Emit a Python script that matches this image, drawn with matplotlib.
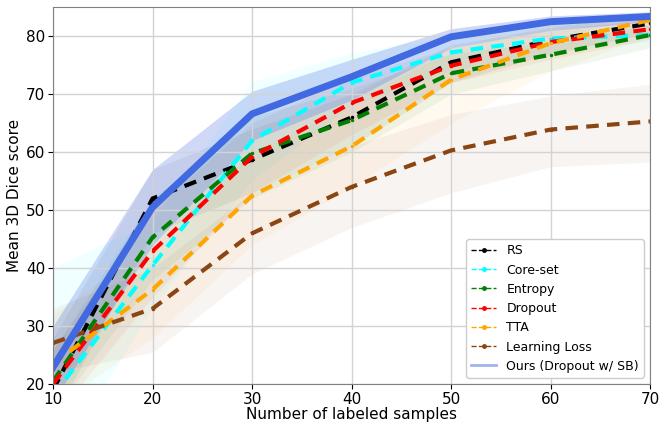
import numpy as np
import matplotlib
matplotlib.use("Agg")
import matplotlib.pyplot as plt
from matplotlib.lines import Line2D

# number of labeled samples
samples = [10, 20, 30, 40, 50, 60, 70]

# mean dice + band (lower / upper) per method
rs_mean = [19.0, 52.0, 58.7, 66.0, 75.5, 79.3, 82.2]
rs_low = [14, 46, 53, 61, 72, 77, 80.5]
rs_high = [28, 57, 64, 70, 78.5, 81.5, 84]

core_mean = [18.0, 40.5, 62.0, 72.0, 77.2, 79.6, 80.2]
core_low = [5, 33, 55, 68, 74, 77, 79]
core_high = [40, 48, 72, 77, 80, 82, 82]

ent_mean = [20.5, 45.3, 59.8, 65.5, 73.6, 76.8, 80.2]
ent_low = [15, 38, 52, 60, 70, 74, 78]
ent_high = [26, 52, 66, 71, 77, 79, 82]

drop_mean = [20.0, 42.9, 59.2, 68.5, 74.9, 79.0, 81.2]
drop_low = [14, 35, 53, 63, 72, 76, 79.5]
drop_high = [26, 50, 65, 73, 78, 81, 83]

tta_mean = [23.5, 36.3, 52.5, 61.0, 72.5, 78.8, 82.8]
tta_low = [16, 28, 44, 54, 65, 74, 80]
tta_high = [32, 44, 60, 68, 78, 82, 84.5]

ll_mean = [27.1, 33.0, 46.0, 54.0, 60.3, 63.9, 65.3]
ll_low = [22, 25.5, 39, 47, 53, 57.5, 58.3]
ll_high = [33, 40, 53, 61, 66.5, 69.7, 71.7]

ours_mean = [22.9, 50.5, 66.6, 73.0, 79.9, 82.5, 83.4]
ours_low = [17, 44, 62, 69, 78, 81, 82.5]
ours_high = [30, 57, 70.5, 76, 81.3, 83.5, 84.2]

names = ["RS", "Core-set", "Entropy", "Dropout", "TTA", "Learning Loss"]
colors = ["black", "cyan", "green", "red", "orange", "saddlebrown"]
means = [rs_mean, core_mean, ent_mean, drop_mean, tta_mean, ll_mean]
lows = [rs_low, core_low, ent_low, drop_low, tta_low, ll_low]
highs = [rs_high, core_high, ent_high, drop_high, tta_high, ll_high]

fig, ax = plt.subplots(figsize=(6.71, 4.23), dpi=100)

for m, lo, hi, c in zip(means, lows, highs, colors):
    ax.fill_between(samples, lo, hi, color=c, alpha=0.06, linewidth=0)
    ax.plot(samples, m, color=c, linestyle="--", linewidth=3, marker=".", markersize=3,
            dashes=(3, 2))

ax.fill_between(samples, ours_low, ours_high, color="royalblue", alpha=0.25, linewidth=0)
ax.plot(samples, ours_mean, color="royalblue", linewidth=5)

handles = []
for n, c in zip(names, colors):
    handles.append(Line2D([], [], color=c, linestyle="--", linewidth=1, marker=".", markersize=5, label=n))
handles.append(Line2D([], [], color="royalblue", alpha=0.5, linewidth=2, label="Ours (Dropout w/ SB)"))
ax.legend(handles=handles, loc="lower right", fontsize=9, framealpha=1)

ax.set_xlim(10, 70)
ax.set_ylim(20, 85)
ax.set_xticks([10, 20, 30, 40, 50, 60, 70])
ax.set_yticks([20, 30, 40, 50, 60, 70, 80])
ax.tick_params(labelsize=11, pad=2)
ax.grid(True, color="lightgray", linewidth=1)
for s in ax.spines.values():
    s.set_color("gray")
ax.set_xlabel("Number of labeled samples", fontsize=11, labelpad=0)
ax.set_ylabel("Mean 3D Dice score", fontsize=11, labelpad=3)

plt.subplots_adjust(left=0.079, right=0.969, top=0.983, bottom=0.092)
plt.savefig("out.png")
